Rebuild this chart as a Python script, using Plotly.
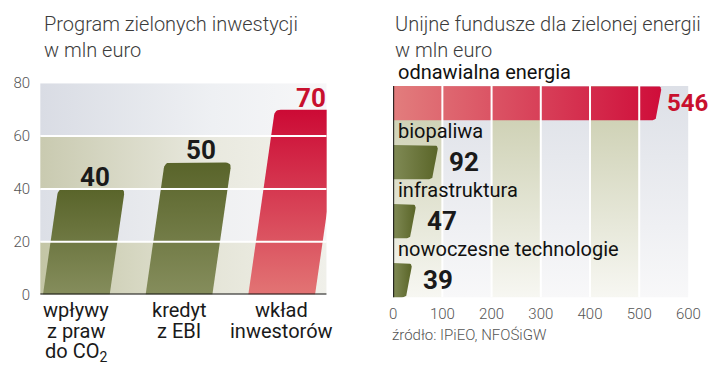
import numpy as np
import plotly.graph_objects as go

# ---------------- data ----------------
left_categories = ["wpływy\nz praw\ndo CO<sub>2</sub>", "kredyt\nz EBI", "wkład\ninwestorów"]
left_values = [40, 50, 70]
left_ticks = [0, 20, 40, 60, 80]

right_categories = ["odnawialna energia", "biopaliwa", "infrastruktura", "nowoczesne technologie"]
right_values = [546, 92, 47, 39]
right_ticks = [0, 100, 200, 300, 400, 500, 600]

left_title = "Program zielonych inwestycji<br>w mln euro"
right_title = "Unijne fundusze dla zielonej energii<br>w mln euro"
source_text = "źródło: IPiEO, NFOŚiGW"

# ---------------- layout constants (page pixels) ----------------
W, H = 720, 373


def px(p):
    return p / W


def py(p):
    return 1 - p / H


L_X0, L_X1, L_YT, L_YB = 37, 330, 78, 300
R_X0, R_X1, R_YT, R_YB = 398, 700, 81, 303
L_PX_UNIT = 105.0
L_XMIN = -(74 - L_X0) / L_PX_UNIT
L_XMAX = L_XMIN + (L_X1 - L_X0) / L_PX_UNIT
L_YMAX = left_ticks[-1]
L_PY_UNIT = (L_YB - L_YT) / L_YMAX

R_XMAX = right_ticks[-1]
R_PX_UNIT = (R_X1 - R_X0) / R_XMAX
R_PY_CAT = 62.0
R_HALF = 18.0 / R_PY_CAT
R_YMIN = -(99 - R_YT) / R_PY_CAT
R_YMAX = R_YMIN + (R_YB - R_YT) / R_PY_CAT

OLIVE_DARK = "#59642a"
OLIVE_LIGHT = "#858d5c"
RED_DARK = "#cc0a35"
RED_LIGHT = "#e27474"
LABEL_FONT = "Roboto"
NUM_FONT = "Roboto"


def bez(p0, p1, p2, n=7):
    t = np.linspace(0, 1, n)
    xs = (1 - t) ** 2 * p0[0] + 2 * (1 - t) * t * p1[0] + t ** 2 * p2[0]
    ys = (1 - t) ** 2 * p0[1] + 2 * (1 - t) * t * p1[1] + t ** 2 * p2[1]
    return list(zip(xs, ys))


fig = go.Figure()

# ---------------- left background bands ----------------
band_scales = [
    [[0, "#c3c5a5"], [0.6, "#e5e5d8"], [1, "#f0f0ea"]],
    [[0, "#dcdfe6"], [0.6, "#eff0f2"], [1, "#f6f6f7"]],
    [[0, "#c9cab0"], [0.6, "#e9e9df"], [1, "#f2f2ec"]],
    [[0, "#d9dce4"], [0.6, "#eef0f3"], [1, "#f7f7f8"]],
]
for k in range(len(left_ticks) - 1):
    y0, y1 = left_ticks[k], left_ticks[k + 1]
    fig.add_trace(go.Scatter(
        x=[L_XMIN, L_XMAX, L_XMAX, L_XMIN, L_XMIN], y=[y0, y0, y1, y1, y0],
        mode="lines", line=dict(width=0), fill="toself",
        fillgradient=dict(type="horizontal", colorscale=band_scales[k % 4]),
        hoverinfo="skip", showlegend=False, xaxis="x", yaxis="y"))

# ---------------- right background columns ----------------
for k in range(len(right_ticks) - 1):
    x0, x1 = right_ticks[k], right_ticks[k + 1]
    if k % 2 == 0:
        cs = [[0, "#f7f7f2"], [1, "#c8cbab"]]
    else:
        cs = [[0, "#f8f8f9"], [1, "#dde0e7"]]
    fig.add_trace(go.Scatter(
        x=[x0, x1, x1, x0, x0], y=[R_YMIN, R_YMIN, R_YMAX, R_YMAX, R_YMIN],
        mode="lines", line=dict(width=0), fill="toself",
        fillgradient=dict(type="vertical", colorscale=cs),
        hoverinfo="skip", showlegend=False, xaxis="x2", yaxis="y2"))

# ---------------- left slanted bars ----------------
hw = 0.325
s = 0.14 * L_PY_UNIT / L_PX_UNIT  # data-x offset per data-y
rx, ry = 6 / L_PX_UNIT, 6 / L_PY_UNIT
for i, v in enumerate(left_values):
    xc = i
    BL, BR = (xc - hw, 0), (xc + hw, 0)
    TR, TL = (xc + hw + s * v, v), (xc - hw + s * v, v)
    A, C = (TR[0] - s * ry, v - ry), (TR[0] - rx, v)
    A2, C2 = (TL[0] + rx, v), (TL[0] - s * ry, v - ry)
    pts = [BL, BR, A] + bez(A, TR, C) + [A2] + bez(A2, TL, C2) + [BL]
    is_red = i == len(left_values) - 1
    cs = [[0, RED_LIGHT], [1, RED_DARK]] if is_red else [[0, OLIVE_LIGHT], [1, OLIVE_DARK]]
    fig.add_trace(go.Scatter(
        x=[p[0] for p in pts], y=[p[1] for p in pts],
        mode="lines", line=dict(width=0), fill="toself",
        fillgradient=dict(type="vertical", colorscale=cs),
        hoverinfo="skip", showlegend=False, xaxis="x", yaxis="y"))
    fig.add_annotation(
        x=xc + s * v, y=v, xref="x", yref="y", text=f"<b>{v}</b>",
        showarrow=False, xanchor="center", yanchor="middle", yshift=12, xshift=3,
        font=dict(family=NUM_FONT, size=26, color="#c8102e" if is_red else "#1a1a1a"))

# ---------------- right slanted bars ----------------
slant = 6 / R_PX_UNIT
rrx, rry = 5 / R_PX_UNIT, 5 / R_PY_CAT
for i, v in enumerate(right_values):
    top, bot = i - R_HALF, i + R_HALF

    def xr(y):
        return v - slant * (y - top) / (bot - top)

    P1 = (v - rrx, top)
    P2 = (xr(top + rry), top + rry)
    P3 = (xr(bot - rry), bot - rry)
    P4 = (v - slant - rrx, bot)
    pts = [(0, top), P1] + bez(P1, (v, top), P2) + [P3] + bez(P3, (v - slant, bot), P4) + [(0, bot), (0, top)]
    is_red = i == 0
    cs = [[0, "#e27d7d"], [1, "#cf0d3a"]] if is_red else [[0, "#808a55"], [1, "#5a6528"]]
    fig.add_trace(go.Scatter(
        x=[p[0] for p in pts], y=[p[1] for p in pts],
        mode="lines", line=dict(width=0), fill="toself",
        fillgradient=dict(type="horizontal", colorscale=cs),
        hoverinfo="skip", showlegend=False, xaxis="x2", yaxis="y2"))
    fig.add_annotation(
        x=v, y=i, xref="x2", yref="y2", text=f"<b>{v}</b>", showarrow=False,
        xanchor="left", yanchor="middle", xshift=3 if is_red else 9,
        font=dict(family=NUM_FONT, size=24 if is_red else 26,
                  color="#c8102e" if is_red else "#1a1a1a"))
    fig.add_annotation(
        x=0, y=i, xref="x2", yref="y2", text=right_categories[i], showarrow=False,
        xanchor="left", yanchor="middle", xshift=3, yshift=31,
        font=dict(family=LABEL_FONT, size=20, color="#111111"))

# ---------------- gridlines (above bars) & axis lines ----------------
for t in left_ticks[1:-1]:
    fig.add_shape(type="line", xref="x", yref="y", x0=L_XMIN, x1=L_XMAX, y0=t, y1=t,
                  line=dict(color="white", width=2), layer="above")
for t in right_ticks[1:-1]:
    fig.add_shape(type="line", xref="x2", yref="y2", x0=t, x1=t, y0=R_YMIN, y1=R_YMAX,
                  line=dict(color="white", width=2), layer="above")
fig.add_shape(type="line", xref="x", yref="y", x0=L_XMIN, x1=L_XMAX, y0=0, y1=0,
              line=dict(color="#111111", width=2), layer="above")
fig.add_shape(type="line", xref="x2", yref="y2", x0=0, x1=0, y0=R_YMIN - 0.1, y1=R_YMAX,
              line=dict(color="#111111", width=2), layer="above")

# ---------------- left category labels ----------------
for i, lab in enumerate(left_categories):
    for k, line in enumerate(lab.split("\n")):
        fig.add_annotation(
            x=i, y=0, xref="x", yref="y", text=line, showarrow=False,
            xanchor="center", yanchor="middle", yshift=-(15 + 21 * k),
            font=dict(family=LABEL_FONT, size=20, color="#1a1a1a"))

# ---------------- titles & source ----------------
title_font = dict(family=LABEL_FONT, size=20, color="#3c3c3c", weight=300)
fig.add_annotation(x=px(39), y=py(1), xref="paper", yref="paper", text=left_title,
                   showarrow=False, xanchor="left", yanchor="top", align="left",
                   font=title_font)
fig.add_annotation(x=px(398), y=py(1), xref="paper", yref="paper", text=right_title,
                   showarrow=False, xanchor="left", yanchor="top", align="left",
                   font=title_font)
fig.add_annotation(x=px(395), y=py(343), xref="paper", yref="paper", text=source_text,
                   showarrow=False, xanchor="left", yanchor="middle", align="left",
                   font=dict(family=LABEL_FONT, size=15, color="#555555", weight=300))

tickfont = dict(family=LABEL_FONT, size=15, color="#555555", weight=300)
fig.update_layout(
    autosize=True, margin=dict(l=0, r=0, t=0, b=0),
    paper_bgcolor="white", plot_bgcolor="white", showlegend=False,
    xaxis=dict(domain=[px(L_X0), px(L_X1)], range=[L_XMIN, L_XMAX], showgrid=False,
               zeroline=False, showticklabels=False, fixedrange=True, anchor="y"),
    yaxis=dict(domain=[py(L_YB), py(L_YT)], range=[0, L_YMAX],
               tickvals=left_ticks, showgrid=False, zeroline=False, ticks="",
               tickfont=tickfont, ticklabelstandoff=9, fixedrange=True, anchor="x"),
    xaxis2=dict(domain=[px(R_X0), px(R_X1)], range=[0, R_XMAX], tickvals=right_ticks,
                showgrid=False, zeroline=False, ticks="", tickfont=tickfont,
                ticklabelstandoff=6, ticklabeloverflow="allow", fixedrange=True,
                anchor="y2"),
    yaxis2=dict(domain=[py(R_YB), py(R_YT)], range=[R_YMAX, R_YMIN],
                showgrid=False, zeroline=False, showticklabels=False, fixedrange=True,
                anchor="x2"),
)

# the graph div is pinned to the page corner so the 720x373 figure fills the window
fig.write_html("out.html", config={"displayModeBar": False},
               default_width=f"{W}px;position:absolute;left:0;top:0",
               default_height=f"{H}px")
